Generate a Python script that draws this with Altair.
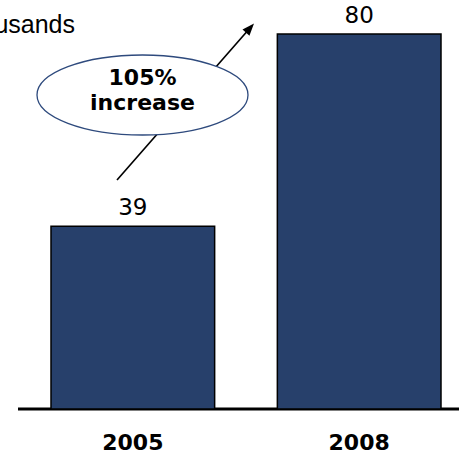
import altair as alt
import pandas as pd

years = ["2005", "2008"]
values = [39, 80]
unit_label = "In Thousands"
bubble_lines = ["105%", "increase"]

df = pd.DataFrame({"year": years, "value": values})

W, H = 459, 454
BAR_COLOR = "#27406b"

x = alt.X("year:N", axis=None,
          scale=alt.Scale(domain=years, range=[51, 441], paddingInner=0.277, paddingOuter=0))
y = alt.Y("value:Q", axis=None,
          scale=alt.Scale(domain=[0, 80], range=[409, 34], nice=False, zero=True))

base = alt.Chart(df)

bars = base.mark_bar(color=BAR_COLOR, stroke="#000000", strokeWidth=1.5).encode(x=x, y=y)

value_labels = base.mark_text(font="DejaVu Sans", fontSize=23, baseline="bottom",
                              dy=-6, color="#000000").encode(x=x, y=y, text="value:Q")

year_labels = base.mark_text(font="DejaVu Sans", fontWeight="bold", fontSize=22,
                             baseline="alphabetic", color="#000000").encode(
    x=x, y=alt.value(450), text="year:N")

one = alt.Data(values=[{}])

axis_line = alt.Chart(one).mark_rule(color="#000000", strokeWidth=3).encode(
    x=alt.value(18), x2=alt.value(459), y=alt.value(409))

arrow_line = alt.Chart(one).mark_rule(color="#000000", strokeWidth=1.6).encode(
    x=alt.value(117), y=alt.value(180), x2=alt.value(250), y2=alt.value(28))

arrow_head = alt.Chart(one).mark_point(
    shape="M0,-1 L0.75,1 L-0.75,1 Z", size=150, filled=True, color="#000000",
    opacity=1, angle=41).encode(x=alt.value(250), y=alt.value(28))

ellipse = alt.Chart(one).mark_point(
    shape="M-1,0 A1,0.379 0 1,0 1,0 A1,0.379 0 1,0 -1,0 Z", size=211 * 211,
    filled=True, fill="#ffffff", stroke="#2e4a7d", strokeWidth=1.3, opacity=1,
    fillOpacity=1).encode(x=alt.value(142.5), y=alt.value(95))

bubble_text = alt.Chart(pd.DataFrame({"t": bubble_lines, "yy": [85, 110]})).mark_text(
    font="DejaVu Sans", fontWeight="bold", fontSize=22, baseline="alphabetic",
    color="#000000").encode(x=alt.value(142.5), y=alt.Y("yy:Q", scale=None), text="t:N")

unit_text = alt.Chart(one).mark_text(
    font="Liberation Sans", fontSize=25, align="right", baseline="alphabetic",
    color="#000000", text=unit_label).encode(x=alt.value(75), y=alt.value(33))

chart = alt.layer(
    axis_line, bars, value_labels, year_labels,
    arrow_line, arrow_head, ellipse, bubble_text, unit_text
).properties(
    width=W, height=H, padding=0, autosize=alt.AutoSizeParams(type="none"),
    background="#ffffff"
).configure_view(stroke=None)

chart.save("out.html", embed_options={"renderer": "svg", "actions": False})
